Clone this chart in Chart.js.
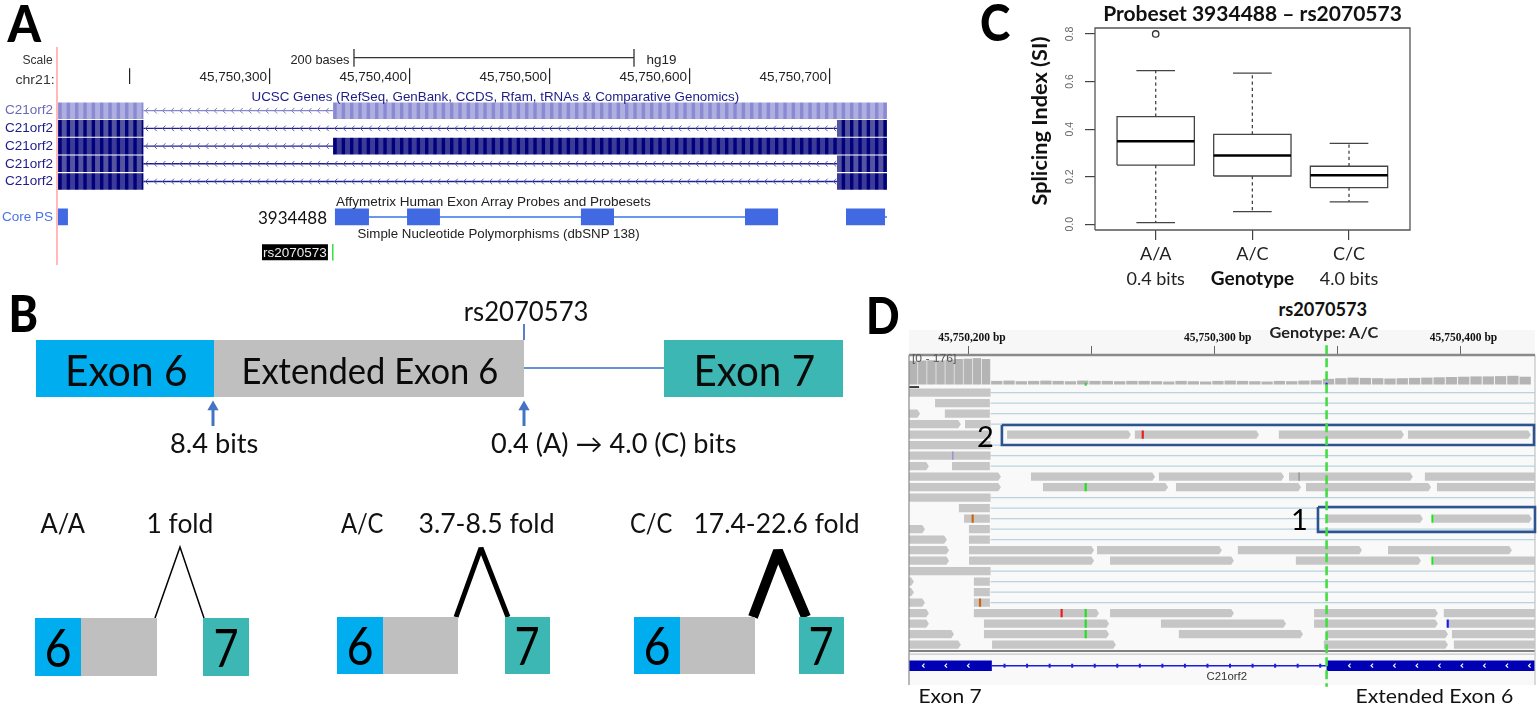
<!DOCTYPE html>
<html>
<head>
<meta charset="utf-8">
<title>rs2070573</title>
<script src="https://cdn.jsdelivr.net/npm/chart.js@4"></script>
<style>
html,body{margin:0;padding:0;background:#fff;width:1539px;height:705px;overflow:hidden}
canvas{position:absolute}
.lbl{position:absolute;white-space:nowrap;line-height:1;transform-origin:center center}
</style>
</head>
<body>
<div id="ruler" style="position:absolute;left:909px;top:330px;width:626px;height:24px;background:#f7f7f7"></div>
<div id="pink" style="position:absolute;left:56px;top:47px;width:1.5px;height:218px;background:#ffb9b9"></div>
<script>
// panel C, splicing index by genotype
var genotypes = [["A/A","0.4 bits"],"A/C",["C/C","4.0 bits"]];
var whiskLow = [0.007,0.053,0.094];
var q1 = [0.249,0.203,0.154];
var medians = [0.349,0.289,0.206];
var q3 = [0.4525,0.378,0.244];
var whiskHigh = [0.646,0.635,0.340];
var outliers = [[1,0.8]];
var siTicks = [0,0.2,0.4,0.6,0.8];

// panel A, UCSC browser (bases after 45,750,000)
var ucscTicks = [200,300,400,500,600,700];
var ucscTickLabels = ["","45,750,300","45,750,400","45,750,500","45,750,600","45,750,700"];
var ucscRowLabels = ["C21orf2","C21orf2","C21orf2","C21orf2","C21orf2","","Core PS","",""];
var ucscExons = [
 [[148.6,209.6],[345,740.7]],
 [[148.6,209.6],[705,740.7]],
 [[148.6,209.6],[345,740.7]],
 [[148.6,209.6],[705,740.7]],
 [[148.6,209.6],[705,740.7]]
];
var ucscIntrons = [[209.6,345],[209.6,705],[209.6,345],[209.6,705],[209.6,705]];
var coreBlocks = [[148.6,155.7],[346.4,370.7],[397.9,421.4],[522.1,545.7],[639.3,662.9],[711.4,739.3]];
var coreLinks = [[370.7,639.3],[739.3,740.7]];
var scaleBar = [360,560];
var snpLabelSpan = [294.3,341.4];
var snpMark = [344.3,345.4];

// panel B
var geneParts = [[36,214],[214,524],[664,843]];
var isoParts = [
 [[35,81],[81,157],[203,249]],
 [[337,383],[383,458],[505,550]],
 [[634,680],[680,755],[799,844]]
];
var isoTop = [618,617,617];
var isoBottom = [676,674,674];
var spliceX = [[155,180,204],[456,481,508],[753,778,806]];
var spliceTop = [547,548,551];
var spliceWidth = [1.5,5,10];
var arrowX = [213,524];

// panel D, IGV (bases after 45,750,000)
var igvTicks = [200,250,300,350,400];
var igvTickLabels = ["45,750,200 bp","","45,750,300 bp","","45,750,400 bp"];
var coverageExon = [158,160,162,160,166,170,172,176,170];
var coverageRest = [24,26,22,24,26,24,22,26,24,24,22,24,24,22,20,24,22,20,24,26,24,22,20,24,22,26,28,38,42,46,44,42,40,42,44,46,48,50,52,54,54,56,58,52];
var readRows = [
 [[175.6,208.8]],
 [[186.2,208.5]],
 [[175.6,180.1],[190.2,208.5]],
 [[175.6,196.7],[198.4,208.8]],
 [[175.6,208.8],[215.5,265.9],[267.5,318],[326.1,377],[378.6,428.6]],
 [[175.6,208.8]],
 [[175.6,208.8]],
 [[175.6,183.7],[193.1,208.5]],
 [[175.6,213],[225.2,275.7],[277.3,328.2],[330.2,380.6],[385.5,430.3]],
 [[175.6,213],[230.1,281],[284.2,335.1],[337.1,388],[390.4,430.3]],
 [[175.6,208.8]],
 [[195.9,208.5]],
 [[198,208.5],[345.2,384.7],[389.2,429]],
 [[175.6,182.1],[200,208.5]],
 [[175.6,191],[200,208.5]],
 [[175.6,191.9],[200,250.9],[252.1,302.9],[309.4,359.9],[370.5,420.9]],
 [[175.6,191.9],[200,250.9],[257.4,307.8],[333,383.9],[389.2,430.3]],
 [[175.6,208.8]],
 [[175.6,177.6],[202,208.5]],
 [[175.6,177.6],[202,208.5]],
 [[175.6,182.1],[202,208.5]],
 [[175.6,183.7],[202,252.9],[257.4,307.8],[340.4,390.8],[393.2,430.3]],
 [[175.6,183.7],[206.1,257],[278.1,329],[340.4,390.8],[395.3,430.3]],
 [[175.6,193.9],[206.1,257],[285.4,335.9],[345.6,394.9],[396.5,430.3]],
 [[175.6,196.7],[209.4,259.8],[344.4,394.9],[397.3,430.3]]
];
var intronRows = [[0,430.3],[1,430.3],[2,430.3],[3,430.3],[5,430.3],[6,430.3],[7,430.3],[10,430.3],[11,430.3],[12,345.2],[13,430.3],[14,430.3],[17,430.3],[18,430.3],[19,430.3],[20,430.3]];
var mismatchRow = [4,6,8,9,12,12,16,20,21,21,22,22,23];
var mismatchPos = [270.7,193.4,334.3,247.5,201.5,388.6,388.6,204.5,237.7,247.5,247.5,394.8,247.5];
var mismatchBase = ["T","P","N","G","O","G","G","O","T","G","G","C","G"];
var snpPos = 345.5;
var igvExons = [[175.6,209.3],[345.5,430.3]];
var igvIntron = [209.3,345.5];

var baseColors = {T:"#f01c1c",G:"#20e020",C:"#1a1ae6",O:"#d0660a",P:"#9a96cc",N:"#9a9a9a"};
var lato = "Lato, sans-serif";
var arial = "'Liberation Sans', sans-serif";

function pts(list){ return list.map(function(p){ return {x:p[0],y:p[1]}; }); }

// closed filled shape on the chart scales
function shape(list,color,extra){
  return Object.assign({data:pts(list),showLine:true,fill:"shape",backgroundColor:color,borderWidth:0,pointRadius:0},extra||{});
}
function rect(x0,x1,y0,y1,color,extra){
  return shape([[x0,y0],[x1,y0],[x1,y1],[x0,y1]],color,extra);
}
function line(list,color,width,extra){
  return Object.assign({data:pts(list),showLine:true,fill:false,borderColor:color,borderWidth:width,pointRadius:0,clip:false},extra||{});
}

// little arrows and ticks along the gene tracks, spaced along the x scale
var marksPlugin = {
  id:"marks",
  afterDatasetsDraw:function(chart){
    var c = chart.ctx;
    chart.data.datasets.forEach(function(d){
      if(!d.marks) return;
      var m = d.marks;
      var x0 = chart.scales.x.getPixelForValue(m.from);
      var x1 = chart.scales.x.getPixelForValue(m.to);
      var y = chart.scales.y.getPixelForValue(m.row);
      c.save();
      c.strokeStyle = m.color;
      c.lineWidth = m.width;
      c.beginPath();
      for(var x=x0+m.start;x<x1-2;x+=m.step){
        if(m.kind=="tick"){
          c.moveTo(x,y-m.size); c.lineTo(x,y+m.size);
        }else{
          c.moveTo(x+m.size,y-m.size); c.lineTo(x,y); c.lineTo(x+m.size,y+m.size);
        }
      }
      c.stroke();
      c.restore();
    });
  }
};

function addChart(left,top,w,h,datasets,scales,pad,title){
  var cv = document.createElement("canvas");
  cv.width = w; cv.height = h;
  cv.style.left = left+"px"; cv.style.top = top+"px";
  document.body.appendChild(cv);
  var opts = {
    responsive:false,animation:false,events:[],
    scales:scales,
    layout:{autoPadding:false,padding:pad},
    plugins:{legend:{display:false},tooltip:{enabled:false}}
  };
  if(title) opts.plugins.title = title;
  return new Chart(cv,{type:"scatter",data:{datasets:datasets},options:opts,plugins:[marksPlugin]});
}

function stripes(light,dark){
  var t = document.createElement("canvas");
  t.width = 25; t.height = 2;
  var g = t.getContext("2d");
  g.fillStyle = light; g.fillRect(0,0,25,2);
  g.fillStyle = dark;
  [0,8.33,16.67].forEach(function(x){ g.fillRect(x,0,3.4,2); });
  return g.createPattern(t,"repeat");
}

// ---------- panel A
var ds = [];
ds.push(line([[scaleBar[0],-3],[scaleBar[1],-3]],"#333",1.3));
ds.push(line([[scaleBar[0],-3.48],[scaleBar[0],-2.48]],"#333",1.3));
ds.push(line([[scaleBar[1],-3.48],[scaleBar[1],-2.48]],"#333",1.3));
var rowLight = ["#aeaee0","#55559f","#3c3c98","#55559f","#3c3c98"];
var rowDark = ["#8a8ad2","#00007a","#00007a","#00007a","#00007a"];
var lineColors = ["#6a6ac0","#20208c","#20208c","#20208c","#20208c"];
ucscExons.forEach(function(list,r){
  var fillPat = stripes(rowLight[r],rowDark[r]);
  list.forEach(function(e){ ds.push(rect(e[0],e[1],r-0.47,r+0.47,fillPat)); });
  var it = ucscIntrons[r];
  ds.push(line([[it[0],r],[it[1],r]],lineColors[r],r==0?1:1.4,{marks:{from:it[0],to:it[1],row:r,start:2,step:8.6,size:2.8,width:1,color:r==0?"#7c7cc8":"#5a5ab0",kind:"chev"}}));
});
coreBlocks.forEach(function(b){ ds.push(rect(b[0],b[1],5.53,6.47,"#4169e1")); });
coreLinks.forEach(function(b){ ds.push(line([[b[0],6],[b[1],6]],"#6a96ee",2)); });
ds.push(rect(snpLabelSpan[0],snpLabelSpan[1],7.55,8.45,"#000"));
ds.push(rect(snpMark[0],snpMark[1],7.53,8.47,"#3fe03f"));

addChart(0,40,900,240,ds,{
  x:{
    type:"linear",position:"top",min:148.6,max:740.7,
    afterFit:function(s){ s.height = 44.15; },
    afterBuildTicks:function(s){ s.ticks = ucscTicks.map(function(v){ return {value:v}; }); },
    grid:{drawOnChartArea:false,color:"#222",tickLength:16,lineWidth:1.2},
    border:{display:false},
    ticks:{align:"end",padding:-17,labelOffset:-3,autoSkip:false,maxRotation:0,minRotation:0,color:"#222",font:{family:arial,size:13.5},
      callback:function(v,i){ return ucscTickLabels[i]; }}
  },
  y:{
    type:"linear",reverse:true,min:-1.5,max:8.5,
    afterFit:function(s){ s.width = 58; },
    afterBuildTicks:function(s){ s.ticks = ucscRowLabels.map(function(l,i){ return {value:i}; }); },
    grid:{display:false,drawTicks:false},border:{display:false},
    ticks:{padding:5,autoSkip:false,font:{family:arial,size:13.5},
      color:function(c){ var v=c.tick.value; return v==0?"#6a6ab4":v==6?"#4a74e6":"#1c1c88"; },
      callback:function(v){ return ucscRowLabels[v]; }}
  }
},{top:0,right:13,bottom:18.85,left:0});

// ---------- panel B, scales are in page units of the diagram
ds = [];
var geneColors = ["#00aeef","#bfbfbf","#3db7b3"];
geneParts.forEach(function(p,i){ ds.push(rect(p[0],p[1],340,397,geneColors[i])); });
ds.push(line([[524,368],[664,368]],"#2f6fc8",1.5));
ds.push(line([[524,324],[524,340]],"#3f6fc4",1));
arrowX.forEach(function(x){
  ds.push(line([[x,426],[x,408]],"#4472c4",3));
  ds.push({data:[{x:x,y:407}],pointStyle:"triangle",pointRadius:6.5,backgroundColor:"#4472c4",borderWidth:0,clip:false});
});
isoParts.forEach(function(set,i){
  set.forEach(function(p,j){ ds.push(rect(p[0],p[1],isoTop[i],isoBottom[i],geneColors[j])); });
  var sx = spliceX[i];
  ds.push(line([[sx[0],isoTop[i]],[sx[1],spliceTop[i]],[sx[2],isoTop[i]]],"#000",spliceWidth[i],{borderJoinStyle:i==0?"miter":"bevel"}));
});
addChart(0,285,880,420,ds,{
  x:{type:"linear",min:0,max:880,display:false},
  y:{type:"linear",min:285,max:705,reverse:true,display:false}
},0);

// ---------- panel C
var xMin = 0.372, xMax = 3.631, yMin = -0.024, yMax = 0.825;
var boxColor = "#444";
ds = [];
genotypes.forEach(function(g,i){
  var x = i+1;
  ds.push(line([[x-0.4,medians[i]],[x+0.4,medians[i]]],"#000",2.6));
  ds.push(line([[x-0.4,q1[i]],[x+0.4,q1[i]],[x+0.4,q3[i]],[x-0.4,q3[i]],[x-0.4,q1[i]]],boxColor,1.3));
  ds.push(line([[x,q3[i]],[x,whiskHigh[i]]],boxColor,1.3,{borderDash:[3.2,3]}));
  ds.push(line([[x,q1[i]],[x,whiskLow[i]]],boxColor,1.3,{borderDash:[3.2,3]}));
  ds.push(line([[x-0.2,whiskHigh[i]],[x+0.2,whiskHigh[i]]],boxColor,1.3));
  ds.push(line([[x-0.2,whiskLow[i]],[x+0.2,whiskLow[i]]],boxColor,1.3));
});
ds.push({data:pts(outliers),pointStyle:"circle",pointRadius:3.2,backgroundColor:"#fff",borderColor:"#333",borderWidth:1.3,clip:false});
ds.push(line([[xMin,yMin],[xMax,yMin],[xMax,yMax],[xMin,yMax],[xMin,yMin]],"#555",1.3));

addChart(1020,0,463,295,ds,{
  x:{
    type:"linear",min:xMin,max:xMax,
    afterFit:function(s){ s.height = 60; },
    afterBuildTicks:function(s){ s.ticks = genotypes.map(function(g,i){ return {value:i+1}; }); },
    grid:{drawOnChartArea:false,color:"#444",tickLength:10,lineWidth:1.2},
    border:{display:false},
    title:{display:true,text:"Genotype",color:"#111",font:{family:lato,size:19,weight:"bold",lineHeight:1.2},padding:0},
    ticks:{padding:1.5,autoSkip:false,maxRotation:0,minRotation:0,color:"#222",font:{family:lato,size:18,lineHeight:1.39},
      callback:function(v,i){ return genotypes[i]; }}
  },
  y:{
    type:"linear",min:yMin,max:yMax,
    afterFit:function(s){ s.width = 75; },
    afterBuildTicks:function(s){ s.ticks = siTicks.map(function(v){ return {value:v}; }); },
    grid:{drawOnChartArea:false,color:"#444",tickLength:10,lineWidth:1.2},
    border:{display:false},
    title:{display:true,text:"\u00a0\u00a0\u00a0Splicing Index (SI)",color:"#111",font:{family:lato,size:21.7,weight:"bold",lineHeight:1.2},padding:{top:7,bottom:0}},
    ticks:{minRotation:90,maxRotation:90,crossAlign:"center",padding:8,autoSkip:false,color:"#666",font:{family:arial,size:10.5},
      callback:function(v){ return v.toFixed(1); }}
  }
},{top:0,right:73,bottom:5,left:0},
{display:true,fullSize:false,text:"Probeset 3934488 \u2013 rs2070573",color:"#111",font:{family:lato,size:21,weight:"bold",lineHeight:"24px"},padding:{top:2,bottom:2}});

// ---------- panel D
var readColor = "#c6c6c6";
var tip = 1.1, half = 0.39;
ds = [];
ds.push(line([[snpPos,-4.53],[snpPos,28]],"#44dd44",2.6,{borderDash:[9,4]}));
ds.push(line([[213.4,3.08],[429.9,3.08],[429.9,4.98],[213.4,4.98],[213.4,3.08]],"#2c5491",2.6));
ds.push(line([[342,10.89],[430.3,10.89],[430.3,13.26],[342,13.26],[342,10.89]],"#2c5491",2.6));
// outer frame of the IGV view
ds.push(line([[175.6,-3.59],[430.3,-3.59]],"#8a8a8a",2.6));
ds.push(line([[175.6,-3.59],[175.6,27.84]],"#8a8a8a",1.2));
ds.push(line([[430.3,-3.59],[430.3,27.84]],"#c4c4c4",1.2));
ds.push(line([[175.6,24.6],[430.3,24.6]],"#808080",1.8));
ds.push(line([[175.6,24.9],[430.3,24.9]],"#bcbcbc",1));
ds.push(line([[175.6,-0.54],[179.7,-0.54]],"#111",1.6));
// gene track
ds.push(line([[igvIntron[0],26],[igvIntron[1],26]],"#1c1ce0",1.5,{marks:{from:igvIntron[0],to:igvIntron[1],row:26,start:12.7,step:22.55,size:2,width:2,color:"#1c1ce0",kind:"tick"}}));
igvExons.forEach(function(e,i){
  ds.push(rect(e[0],e[1],25.5,26.5,"#0000b4",{marks:{from:e[0],to:e[1],row:26,start:i==0?13.5:22,step:22.5,size:2,width:1.2,color:"#fff",kind:"chev"}}));
});
// mismatches on the reads
mismatchPos.forEach(function(p,i){
  var r = mismatchRow[i];
  ds.push(line([[p,r-half],[p,r+half]],baseColors[mismatchBase[i]],mismatchBase[i]=="P"||mismatchBase[i]=="N"?1.6:2.2));
});
ds.push(line([[247.5,-0.95],[247.5,-0.65]],"#30d030",2));
ds.push(line([[345.5,-0.95],[345.5,-0.65]],"#1a1ae6",2));
// reads, pointed at the right end unless cut by the view or spliced
readRows.forEach(function(list,r){
  list.forEach(function(s){
    var spliced = Math.abs(s[1]-208.6)<0.4 || s[1]>430;
    if(spliced) ds.push(rect(s[0],s[1],r-half,r+half,readColor));
    else ds.push(shape([[s[0],r-half],[s[1]-tip,r-half],[s[1],r],[s[1]-tip,r+half],[s[0],r+half]],readColor));
  });
});
intronRows.forEach(function(it){
  ds.push(line([[208.8,it[0]],[it[1],it[0]]],"#b9d3e0",1.2));
});
coverageExon.forEach(function(v,i){
  var x = 175.6+i*3.7;
  ds.push(rect(x,x+3.45,0,v,"#b4b4b4",{yAxisID:"cov"}));
});
coverageRest.forEach(function(v,i){
  var x = 209+i*5;
  ds.push(rect(x,x+4.6,0,v,"#b4b4b4",{yAxisID:"cov"}));
});
ds.push(rect(175.6,430.3,-3.59,27.84,"#f9f9f9"));

addChart(880,320,659,375,ds,{
  x:{
    type:"linear",position:"top",min:175.6,max:430.3,
    afterFit:function(s){ s.height = 35; },
    afterBuildTicks:function(s){ s.ticks = igvTicks.map(function(v){ return {value:v}; }); },
    grid:{drawOnChartArea:false,color:"#666",tickLength:9,lineWidth:1},
    border:{display:false},
    ticks:{padding:1.5,labelOffset:3,autoSkip:false,maxRotation:0,minRotation:0,color:"#111",font:{family:"'Liberation Serif', serif",size:11.5,weight:"bold"},
      callback:function(v,i){ return igvTickLabels[i]; }}
  },
  y:{type:"linear",reverse:true,min:-3.59,max:27.84,display:false},
  cov:{type:"linear",min:-2003.3,max:196.7,display:false}
},{top:0,right:4,bottom:10,left:29});

// ---------- text that sits on the figure
function label(text,cx,cy,size,o){
  o = o||{};
  var s = document.createElement("span");
  s.className = "lbl";
  s.textContent = text;
  s.style.fontFamily = o.family||lato;
  s.style.fontSize = size+"px";
  s.style.fontWeight = o.weight||"normal";
  s.style.color = o.color||"#111";
  document.body.appendChild(s);
  var w = s.offsetWidth, h = s.offsetHeight;
  s.style.left = (cx-w/2)+"px";
  s.style.top = (cy-h/2)+"px";
  if(o.w) s.style.transform = "scaleX("+(o.w/w)+")";
  return s;
}
// panel letters
label("A",24,22,52,{weight:"900",color:"#000",w:34});
label("B",23,312,52,{weight:"900",color:"#000",w:30});
label("C",995,21,52,{weight:"900",color:"#000",w:30});
label("D",883,314,52,{weight:"900",color:"#000",w:34});
// panel A
label("Scale",37,60,12.5,{family:arial,color:"#333",w:30});
label("chr21:",35,79,13,{family:arial,color:"#333",w:39});
label("200 bases",319.5,59,13,{family:arial,color:"#222",w:59});
label("hg19",661,59,13,{family:arial,color:"#222",w:30});
label("UCSC Genes (RefSeq, GenBank, CCDS, Rfam, tRNAs & Comparative Genomics)",495,96,13,{family:arial,color:"#1c1c88",w:488});
label("3934488",292.5,217,17,{w:69});
label("Affymetrix Human Exon Array Probes and Probesets",493.5,202,12.5,{family:arial,color:"#222",w:315});
label("Simple Nucleotide Polymorphisms (dbSNP 138)",498,234,12.5,{family:arial,color:"#222",w:282});
label("rs2070573",295,253,13.5,{family:arial,color:"#eee",w:64});
// panel B
label("Exon 6",126,370,42,{w:123,color:"#0a0a0a"});
label("Extended Exon 6",370,370,36,{w:257,color:"#0a0a0a"});
label("Exon 7",754,370,42,{w:122,color:"#0a0a0a"});
label("rs2070573",526,311,26,{w:124.5});
label("8.4 bits",214,443,26,{w:88});
label("0.4 (A) \u2192 4.0 (C) bits",613.5,443,26,{w:245});
label("A/A",63,523,26,{w:45});
label("1 fold",180,523,26,{w:67});
label("A/C",362,523,26,{w:43});
label("3.7-8.5 fold",486,523,26,{w:136});
label("C/C",651,523,26,{w:42});
label("17.4-22.6 fold",776,523,26,{w:166});
[[58,226,647],[360,527,645],[657,821,645]].forEach(function(d){
  label("6",d[0],d[2],52,{w:27,color:"#000"});
  label("7",d[1],d[2],52,{w:25,color:"#000"});
});
// panel D
label("rs2070573",1323,309,18,{weight:"bold",w:89,color:"#111"});
label("Genotype: A/C",1323.5,332,15,{weight:"bold",w:109,color:"#222"});
label("[0 - 176]",934,358,11,{family:arial,color:"#555",w:44});
label("2",985.5,435,29,{color:"#000"});
label("1",1299.5,518,29,{color:"#000"});
label("C21orf2",1227,677,10,{family:arial,color:"#333",w:41});
label("Exon 7",949.5,695,20,{w:63});
label("Extended Exon 6",1434,695,20,{w:158});
</script>
</body>
</html>
